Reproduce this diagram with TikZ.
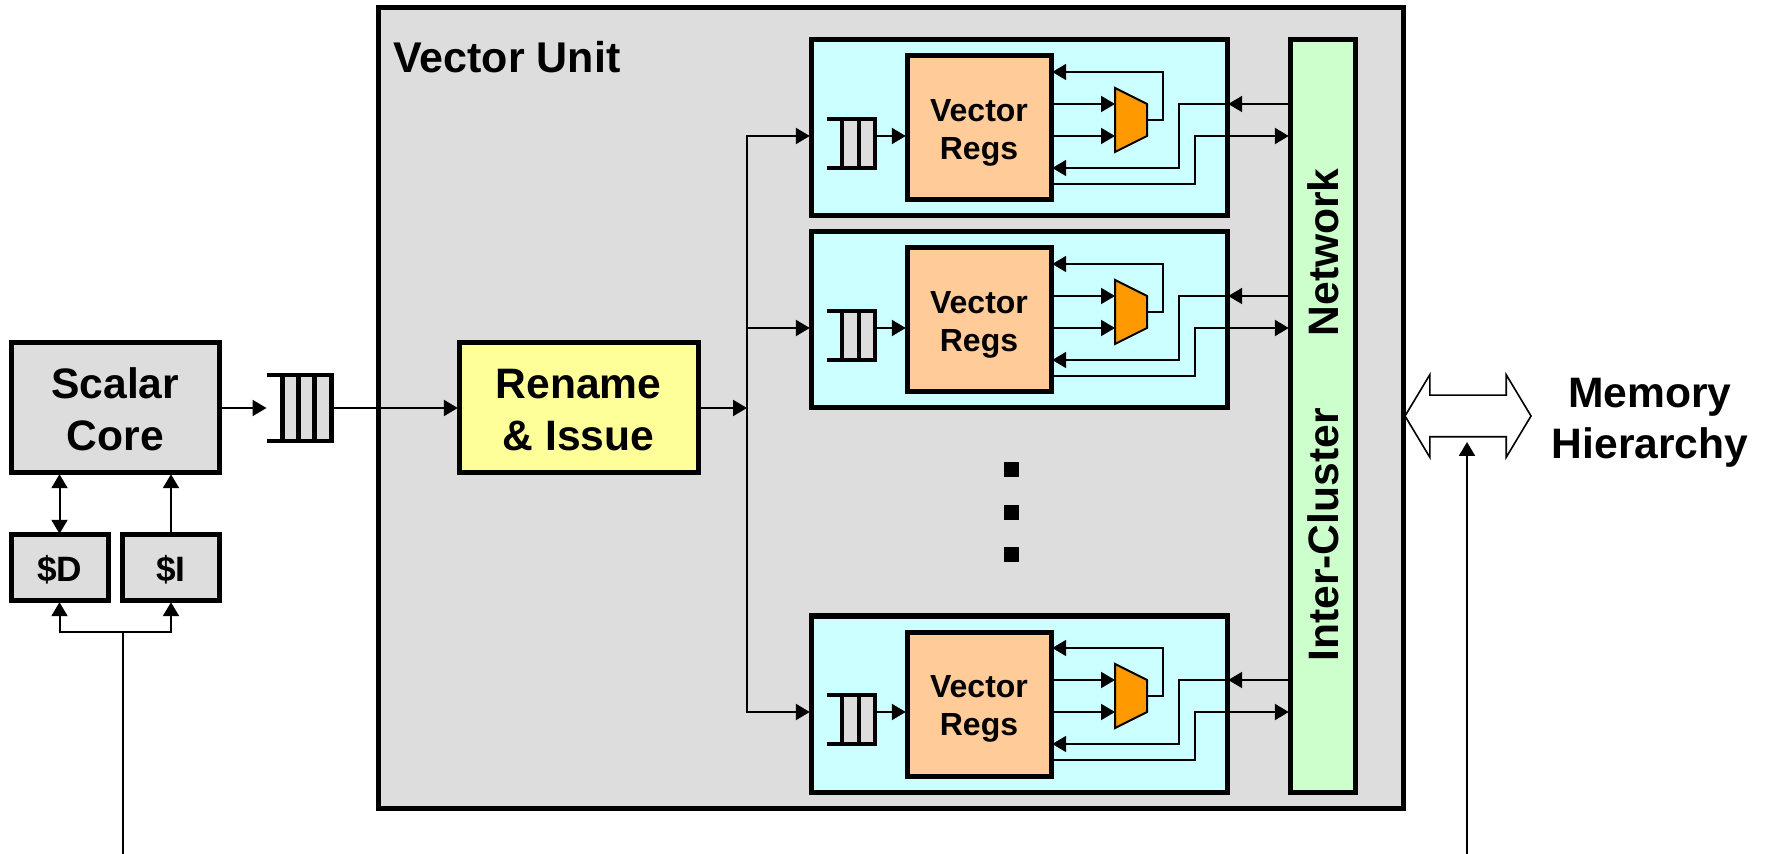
\documentclass[tikz,border=0pt]{standalone}
\usepackage{fontspec}
\setmainfont{Liberation Sans}
\usepackage{tikz}
\usetikzlibrary{shapes.arrows, arrows.meta, positioning, calc}
\definecolor{boxgray}{HTML}{DDDDDD}
\definecolor{clustercyan}{HTML}{CCFFFF}
\definecolor{regpeach}{HTML}{FFCC99}
\definecolor{renameyellow}{HTML}{FFFF99}
\definecolor{netgreen}{HTML}{CCFFCC}
\definecolor{muxorange}{HTML}{FF9900}

\begin{document}
\begin{tikzpicture}[
        x=0.5pt, y=-0.5pt,
        block/.style={draw, rectangle, line width=2.5pt, inner sep=0pt, outer sep=0.6pt, align=center, font=\bfseries\fontsize{21.3}{26}\selectfont},
        core/.style={block, fill=boxgray, minimum width=104.25pt, minimum height=65pt, text height=42.3pt},
        cache/.style={block, fill=boxgray, minimum width=48.5pt, minimum height=33pt, text height=15.1pt, font=\bfseries\fontsize{17.6}{21}\selectfont},
        rename/.style={block, fill=renameyellow, minimum width=119.5pt, minimum height=65pt, text height=42.3pt},
        unit/.style={block, fill=boxgray, minimum width=512.5pt, minimum height=400pt},
        cluster/.style={block, fill=clustercyan, minimum width=208pt, minimum height=88pt},
        regs/.style={block, fill=regpeach, minimum width=72pt, minimum height=72pt, text height=35pt, font=\bfseries\fontsize{16}{19}\selectfont},
        network/.style={block, fill=netgreen, minimum width=32.5pt, minimum height=376pt},
        queue/.style={rectangle, inner sep=0pt, outer sep=0pt},
        rail/.style={line width=2.1pt},
        muxbox/.style={rectangle, inner sep=0pt, outer sep=0pt, minimum width=16pt, minimum height=32pt},
        muxshape/.style={draw, line width=1pt, fill=muxorange, line join=miter},
        dot/.style={rectangle, fill=black, inner sep=0pt, minimum size=7.5pt},
        label/.style={font=\bfseries\fontsize{21.3}{25.5}\selectfont, align=center},
        bigarrow/.style={draw, double arrow, line width=0.8pt, fill=white, inner xsep=0pt, inner ysep=10pt, outer sep=0pt, minimum width=40.5pt, minimum height=63pt, double arrow head extend=10.25pt, double arrow tip angle=118},
        line/.style={line width=1pt},
        link/.style={line, -{Triangle[length=7pt, width=8pt]}},
        biglink/.style={line, {Triangle[length=7pt, width=8pt]}-{Triangle[length=7pt, width=8pt]}}
    ]
        \useasboundingbox (0,0) rectangle (1765,854);

        % vector unit background
        \node[unit] (vecunit) at (890.5,408) {};
        \node[label, anchor=base west, inner sep=0pt, font=\bfseries\fontsize{21.5}{25.5}\selectfont] (vecunitlabel) at (393,73) {Vector Unit};

        % scalar side
        \node[core] (scalarcore) at (115.25,408) {Scalar\\Core};
        \node[cache, below right=29.8pt and 0pt of scalarcore.south west] (dcache) {\$D};
        \node[cache, below left=29.8pt and 0pt of scalarcore.south east] (icache) {\$I};
        \node[queue, minimum width=32.5pt, minimum height=33pt, right=22.9pt of scalarcore] (coreq) {};
        \node[rename, right=63.15pt of coreq] (renameissue) {Rename\\\& Issue};

        \fill[boxgray] ([xshift=8pt]coreq.north west) rectangle (coreq.south east);
        \draw[rail] (coreq.north west) -- (coreq.north east) -- (coreq.south east) -- (coreq.south west);
        \foreach \railx in {8,16,24}
            \draw[rail] ([xshift=\railx pt]coreq.north west) -- ([xshift=\railx pt]coreq.south west);

        % network bar
        \node[network] (netbar) at (1322.5,416) {};
        \node[label, rotate=90, inner sep=0pt] (netlabel) at (1323,415) {Inter-Cluster\hspace{36pt}Network};

        % clusters
        \coordinate (busfork) at (747,408);
        \foreach \i/\rowy in {1/128, 2/320, 3/704} {
            \node[cluster] (cluster\i) at (1019,\rowy) {};
            \node[regs] (regs\i) at (979,\rowy) {Vector\\Regs};
            \node[queue, minimum width=24pt, minimum height=24.5pt, left=15.4pt of regs\i, yshift=-7.75pt] (vecq\i) {};
            \node[muxbox] (mux\i) at (1131,\rowy-8) {};

            \draw[muxshape] (mux\i.north west) -- ([yshift=-8pt]mux\i.north east) -- ([yshift=8pt]mux\i.south east) -- (mux\i.south west) -- cycle;
            \fill[boxgray] ([xshift=7.5pt]vecq\i.north west) rectangle (vecq\i.south east);
            \draw[rail] (vecq\i.north west) -- (vecq\i.north east) -- (vecq\i.south east) -- (vecq\i.south west);
            \draw[rail] ([xshift=7.5pt]vecq\i.north west) -- ([xshift=7.5pt]vecq\i.south west);
            \draw[rail] ([xshift=16pt]vecq\i.north west) -- ([xshift=16pt]vecq\i.south west);

            \coordinate (netin\i) at ([yshift=12pt]regs\i.east -| cluster\i.east);

            \draw[link] (busfork) |- ([yshift=-4pt]regs\i.west -| cluster\i.west);
            \draw[link] ([yshift=-4pt]regs\i.west -| vecq\i.east) -- ([yshift=-4pt]regs\i.west);
            \draw[link] ([yshift=12pt]regs\i.east) -- ([yshift=12pt]regs\i.east -| mux\i.west);
            \draw[link] ([yshift=-4pt]regs\i.east) -- ([yshift=-4pt]regs\i.east -| mux\i.west);
            \draw[link] (mux\i.east) -- ++(8pt,0) |- ([yshift=28pt]regs\i.east);
            \draw[link] ([yshift=12pt]regs\i.east -| netbar.west) -- (netin\i);
            \draw[link] (netin\i) -- ++(-24.6pt,0) |- ([yshift=-20pt]regs\i.east);
            \draw[link] ([yshift=-28pt]regs\i.east) -- ++(71.4pt,0) |- ([yshift=-4pt]regs\i.east -| netbar.west);
        }

        % dots between clusters
        \node[dot] (dot1) at (1011,470) {};
        \node[dot] (dot2) at (1011,513) {};
        \node[dot] (dot3) at (1011,555) {};

        % memory side
        \node[bigarrow] (memarrow) at (1468,416) {};
        \node[label] (memlabel) at (1650,423) {Memory\\Hierarchy};

        % stubs
        \coordinate (corein) at (123,854);
        \coordinate (corefork) at (123,632);
        \coordinate (memin) at (1467,854);
        \coordinate (memtip) at (1467,442);

        % connectors
        \draw[link] (scalarcore) -- (coreq);
        \draw[link] (coreq) -- (renameissue);
        \draw[link] (renameissue) -- (busfork);
        \draw[biglink] (dcache) -- (dcache |- scalarcore.south);
        \draw[link] (icache) -- (icache |- scalarcore.south);
        \draw[line] (corein) -- (corefork);
        \draw[link] (corefork) -| (dcache);
        \draw[link] (corefork) -| (icache);
        \draw[link] (memin) -- (memtip);

    \end{tikzpicture}
\end{document}
